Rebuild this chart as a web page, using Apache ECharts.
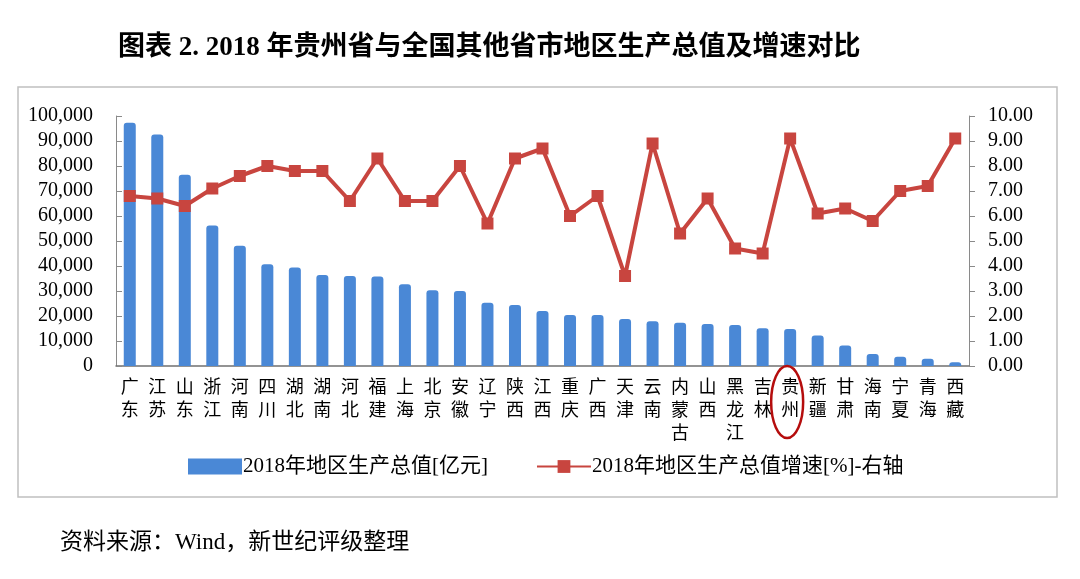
<!DOCTYPE html>
<html><head><meta charset="utf-8">
<script src="https://cdn.jsdelivr.net/npm/echarts@6/dist/echarts.min.js"></script>
<style>html,body{margin:0;padding:0;background:#fff;}#c{width:1080px;height:579px;}</style>
</head><body><div id="c"></div>
<script>
const categories = ['广东','江苏','山东','浙江','河南','四川','湖北','湖南','河北','福建','上海','北京','安徽','辽宁','陕西','江西','重庆','广西','天津','云南','内蒙古','山西','黑龙江','吉林','贵州','新疆','甘肃','海南','宁夏','青海','西藏'];
const gdp = [97300,92600,76500,56200,48100,40700,39400,36400,36000,35800,32700,30300,30000,25300,24400,22000,20400,20400,18800,17900,17300,16800,16400,15100,14800,12200,8200,4800,3700,2900,1500];
const growth = [6.8,6.7,6.4,7.1,7.6,8.0,7.8,7.8,6.6,8.3,6.6,6.6,8.0,5.7,8.3,8.7,6.0,6.8,3.6,8.9,5.3,6.7,4.7,4.5,9.1,6.1,6.3,5.8,7.0,7.2,9.1];
const leftTicks = [0,10000,20000,30000,40000,50000,60000,70000,80000,90000,100000];
const rightTicks = [0,1,2,3,4,5,6,7,8,9,10];
const titleText = '图表 2. 2018 年贵州省与全国其他省市地区生产总值及增速对比';
const sourceText = '资料来源：Wind，新世纪评级整理';
const seriesNames = ['2018年地区生产总值[亿元]','2018年地区生产总值增速[%]-右轴'];

const FONT = '"Liberation Serif","Noto Sans CJK SC",serif';
const chart = echarts.init(document.getElementById('c'));
const option = {
  animation:false,
  backgroundColor:'#fff',
  textStyle:{fontFamily:FONT,color:'#000'},
  title:{text:titleText,left:113,top:30,textStyle:{fontFamily:FONT,fontSize:27,fontWeight:'bold',color:'#000'}},
  legend:{
    bottom:97,left:183,itemGap:48,
    textStyle:{fontFamily:FONT,fontSize:21,color:'#000',padding:[0,0,0,-4]},
    data:[
      {name:seriesNames[0],icon:'rect',itemStyle:{color:'#4a88d6'}},
      {name:seriesNames[1]}
    ],
    itemWidth:54,itemHeight:16
  },
  grid:{left:116,right:111,top:116,bottom:213,containLabel:false},
  xAxis:{
    type:'category',data:categories,
    axisLine:{lineStyle:{color:'#707070',width:1.5}},
    axisTick:{inside:true,length:5,lineStyle:{color:'#404040'}},
    axisLabel:{interval:0,margin:9,fontSize:18,lineHeight:23,color:'#000',fontFamily:'"Noto Sans CJK SC",sans-serif',
      formatter:v=>v.split('').join('\n')}
  },
  yAxis:[
    {type:'value',min:0,max:100000,interval:10000,
     axisLine:{show:true,lineStyle:{color:'#8a8a8a'}},
     axisTick:{show:true,inside:true,length:6,lineStyle:{color:'#8a8a8a'}},
     splitLine:{show:false},
     axisLabel:{margin:23,fontSize:20,color:'#000',fontFamily:FONT,
       formatter:v=>leftTicks.includes(v)?v.toLocaleString('en-US'):''}},
    {type:'value',min:0,max:10,interval:1,
     axisLine:{show:true,lineStyle:{color:'#8a8a8a'}},
     axisTick:{show:true,inside:false,length:6,lineStyle:{color:'#8a8a8a'}},
     splitLine:{show:false},
     axisLabel:{margin:19,fontSize:20,color:'#000',fontFamily:FONT,
       formatter:v=>rightTicks.includes(v)?v.toFixed(2):''}}
  ],
  series:[
    {name:seriesNames[0],type:'bar',data:gdp,barWidth:12,
     itemStyle:{color:'#4a88d6',borderRadius:[3,3,0,0]}},
    {name:seriesNames[1],type:'line',yAxisIndex:1,data:growth,
     symbol:'rect',symbolSize:12,
     lineStyle:{color:'#c8453f',width:4},
     itemStyle:{color:'#c8453f'}}
  ]
};
chart.setOption(option);
const gx = chart.convertToPixel({xAxisIndex:0},'贵州');
const gy = chart.convertToPixel({yAxisIndex:0},0);
chart.setOption({graphic:[
  {type:'rect',shape:{x:18,y:87,width:1039,height:410},style:{fill:'none',stroke:'#c0c0c0',lineWidth:1.5},z:-1},
  {type:'text',left:60,top:531,style:{text:sourceText,font:'23px "Liberation Serif","Noto Sans CJK SC",serif',fill:'#000'}},
  {type:'ellipse',shape:{cx:gx-3,cy:gy+36,rx:16,ry:36},style:{fill:'none',stroke:'#b50d0d',lineWidth:2.5},z:100}
]});
</script></body></html>
